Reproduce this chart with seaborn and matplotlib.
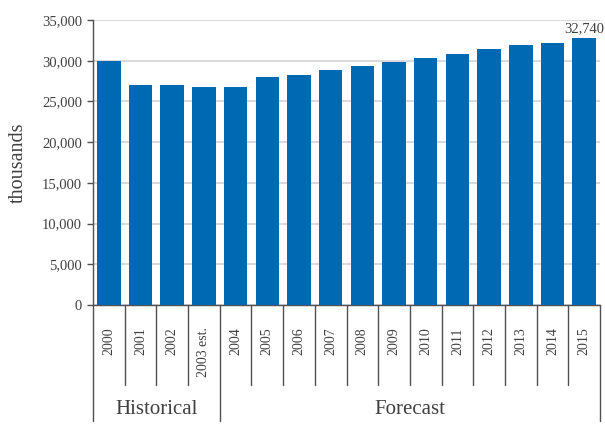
import matplotlib
matplotlib.use("Agg")
import matplotlib.pyplot as plt
import matplotlib.transforms as mtransforms
import seaborn as sns
import pandas as pd

years = ["2000", "2001", "2002", "2003 est.", "2004", "2005", "2006", "2007",
         "2008", "2009", "2010", "2011", "2012", "2013", "2014", "2015"]
values = [30000, 27000, 27000, 26800, 26800, 28000, 28300, 28800,
          29300, 29900, 30300, 30800, 31400, 31900, 32200, 32740]
groups = ["Historical", "Forecast"]
group_sizes = [4, 12]
y_ticks = [0, 5000, 10000, 15000, 20000, 25000, 30000, 35000]
y_label = "thousands"
last_label = "32,740"

sns.set_theme(style="white")
plt.rcParams['font.family'] = ['Liberation Serif', 'DejaVu Serif']

txt = "#404040"
line_c = "#505050"
bar_c = "#0069B4"

df = pd.DataFrame({"year": years, "value": values})

fig = plt.figure(figsize=(6.05, 4.24), dpi=100)
ax = fig.add_axes([93/605, 1-305/424, (600-93)/605, (305-20)/424])

sns.barplot(data=df, x="year", y="value", color=bar_c, width=0.74,
            saturation=1, linewidth=0, edgecolor="none", ax=ax, zorder=3)

ax.set_ylim(0, 35000)
ax.set_xlim(-0.5, len(years) - 0.5)
ax.set_yticks(y_ticks)
ax.set_yticklabels([f"{v:,}" for v in y_ticks], fontsize=10.5, color=txt)
ax.yaxis.grid(True, color="#D9D9DE", linewidth=1.4, zorder=0)
ax.set_axisbelow(True)
ax.tick_params(axis="y", left=True, length=4, width=1, color=line_c, pad=4)
ax.set_ylabel(y_label, fontsize=14.5, color=txt, labelpad=10)
ax.set_xlabel("")

ax.set_xticks(range(len(years)))
ax.set_xticklabels(years, rotation=90, fontsize=10, color=txt, va="top")
ax.tick_params(axis="x", bottom=False, length=0, pad=16)

for s in ["top", "right"]:
    ax.spines[s].set_visible(False)
ax.spines["left"].set_color(line_c)
ax.spines["left"].set_linewidth(1)
ax.spines["bottom"].set_color(line_c)
ax.spines["bottom"].set_linewidth(1)

trans = mtransforms.blended_transform_factory(ax.transData, ax.transAxes)
short_bottom = -(385-305)/285
long_bottom = -(421-305)/285
bounds = [0]
for g in group_sizes:
    bounds.append(bounds[-1] + g)
for i in range(len(years) + 1):
    xb = i - 0.5
    yb = long_bottom if i in bounds else short_bottom
    ax.plot([xb, xb], [0, yb], transform=trans, color=line_c, lw=1,
            clip_on=False, zorder=5)

for g, start, size in zip(groups, bounds[:-1], group_sizes):
    xc = start + (size - 1) / 2
    ax.text(xc, -(409-305)/285, g, transform=trans, ha="center", va="center",
            fontsize=15, color=txt)

ax.text(len(years) - 1, values[-1] + 450, last_label, ha="center", va="bottom",
        fontsize=10.5, color=txt)

fig.savefig("out.png", dpi=100)
